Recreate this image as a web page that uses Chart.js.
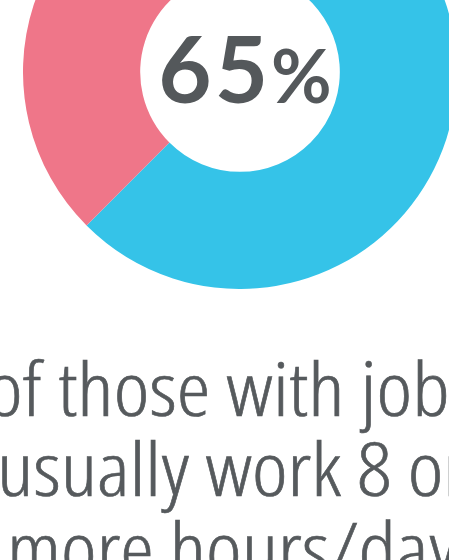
<!DOCTYPE html>
<html>
<head>
<meta charset="utf-8">
<script src="https://cdn.jsdelivr.net/npm/chart.js@4/dist/chart.umd.min.js"></script>
<style>
  html, body { margin: 0; padding: 0; background: #fff; overflow: hidden; }
  body { width: 449px; height: 560px; position: relative; }
  #wrap { position: absolute; left: 23px; top: -145px; width: 434px; height: 434px; }
  #big {
    position: absolute; left: 0; width: 490px; top: 18px; text-align: center;
    font-family: Lato, "Open Sans", sans-serif; font-weight: bold; color: #54585b;
    font-size: 92px; line-height: 100px; white-space: nowrap; letter-spacing: 3px;
  }
  #big span { font-size: 74px; letter-spacing: 0; }
  #caption {
    position: absolute; left: -68px; width: 600px; top: 348px; text-align: center;
    font-family: "Open Sans", sans-serif; font-stretch: condensed; font-weight: 300;
    color: #565a5d; font-size: 74px; line-height: 80px; white-space: nowrap;
    transform: scaleX(1.15); transform-origin: 300px 0;
    -webkit-text-stroke: 0.6px #565a5d;
  }
</style>
</head>
<body>
<div id="wrap"><canvas id="donut" width="434" height="434"></canvas></div>
<div id="big">65<span>%</span></div>
<div id="caption">of those with jobs<br>usually work 8 or<br>more hours/day</div>
<script>
var labels = ['Work 8+ hours/day', 'Work less'];
var values = [65, 35];
var colors = ['#35c3e8', '#ef7689'];

var ctx = document.getElementById('donut').getContext('2d');
var chart = new Chart(ctx, {
    type: 'doughnut',
    data: {
        labels: labels,
        datasets: [{
            data: values,
            backgroundColor: colors,
            borderWidth: 0
        }]
    },
    options: {
        responsive: false,
        animation: false,
        cutout: '46%',
        rotation: -9,
        layout: { padding: 0 },
        plugins: {
            legend: { display: false },
            tooltip: { enabled: false }
        }
    }
});
</script>
</body>
</html>
